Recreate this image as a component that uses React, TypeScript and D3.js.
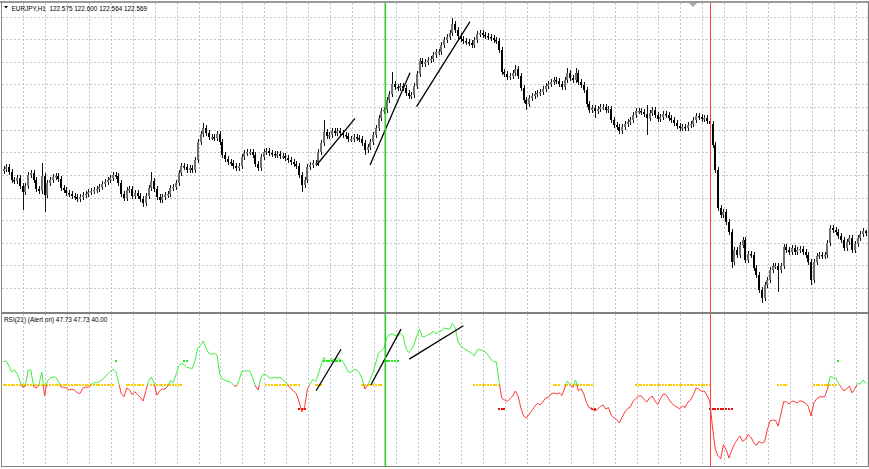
import React from 'react';
import * as d3 from 'd3';

// ---- data ----
const firstOpen = 123.19;
const closes = [
  123.21, 123.23, 123.18, 123.10, 123.09, 123.12, 123.04, 122.98, 123.04, 123.15,
  123.17, 123.10, 123.01, 122.99, 123.14, 122.95, 123.07, 123.10, 123.13, 123.14,
  123.11, 123.02, 123.00, 122.97, 122.96, 122.94, 122.93, 122.91, 122.93, 122.95,
  122.96, 122.98, 122.99, 123.00, 123.01, 123.03, 123.06, 123.08, 123.10, 123.12,
  123.15, 123.14, 123.07, 122.96, 122.92, 123.00, 123.01, 122.94, 122.97, 122.94,
  122.91, 122.87, 122.94, 123.02, 123.09, 123.01, 122.93, 122.90, 122.93, 122.95,
  122.96, 123.02, 123.03, 123.07, 123.17, 123.24, 123.23, 123.20, 123.22, 123.20,
  123.30, 123.48, 123.56, 123.62, 123.57, 123.53, 123.53, 123.52, 123.56, 123.48,
  123.35, 123.31, 123.28, 123.27, 123.24, 123.22, 123.24, 123.33, 123.37, 123.38,
  123.38, 123.35, 123.26, 123.22, 123.33, 123.38, 123.39, 123.37, 123.36, 123.35,
  123.36, 123.34, 123.34, 123.32, 123.30, 123.28, 123.26, 123.24, 123.15, 123.05,
  123.10, 123.23, 123.25, 123.27, 123.27, 123.38, 123.47, 123.58, 123.54, 123.55,
  123.59, 123.57, 123.59, 123.57, 123.55, 123.54, 123.51, 123.51, 123.53, 123.52,
  123.51, 123.47, 123.40, 123.43, 123.48, 123.55, 123.62, 123.72, 123.79, 123.80,
  123.90, 123.96, 124.06, 124.03, 124.02, 124.04, 124.02, 123.97, 123.94, 123.95,
  124.04, 124.16, 124.29, 124.26, 124.28, 124.30, 124.31, 124.35, 124.38, 124.38,
  124.45, 124.50, 124.53, 124.57, 124.66, 124.60, 124.54, 124.51, 124.49, 124.48,
  124.47, 124.45, 124.50, 124.56, 124.57, 124.55, 124.54, 124.53, 124.52, 124.50,
  124.49, 124.40, 124.18, 124.16, 124.13, 124.14, 124.17, 124.21, 124.14, 124.02,
  123.90, 123.86, 123.92, 123.94, 123.96, 123.97, 123.98, 124.01, 124.04, 124.06,
  124.08, 124.10, 124.09, 124.06, 124.03, 124.10, 124.17, 124.12, 124.10, 124.17,
  124.08, 124.05, 124.00, 123.86, 123.80, 123.82, 123.79, 123.81, 123.83, 123.83,
  123.80, 123.81, 123.70, 123.65, 123.63, 123.59, 123.63, 123.66, 123.68, 123.70,
  123.75, 123.79, 123.79, 123.78, 123.76, 123.72, 123.77, 123.80, 123.75, 123.71,
  123.73, 123.76, 123.75, 123.72, 123.70, 123.67, 123.64, 123.62, 123.63, 123.62,
  123.65, 123.66, 123.70, 123.74, 123.73, 123.71, 123.72, 123.69, 123.66, 123.45,
  123.20, 122.82, 122.75, 122.78, 122.68, 122.58, 122.28, 122.40, 122.35, 122.45,
  122.50, 122.30, 122.36, 122.35, 122.22, 122.15, 122.00, 121.92, 122.05, 122.10,
  122.20, 122.24, 122.24, 122.20, 122.24, 122.43, 122.40, 122.38, 122.42, 122.38,
  122.40, 122.41, 122.38, 122.35, 122.28, 122.10, 122.28, 122.34, 122.35, 122.34,
  122.35, 122.47, 122.62, 122.60, 122.58, 122.54, 122.50, 122.42, 122.48, 122.52,
  122.40, 122.46, 122.52, 122.56, 122.59, 122.569,
];
const highSpikes: [number, number][] = [
  [14, 123.27], [54, 123.18], [73, 123.67], [117, 123.70], [142, 124.18], [164, 124.72],
  [187, 124.25], [206, 124.22], [209, 124.22], [235, 123.85], [315, 122.60],
];
const lowSpikes: [number, number][] = [
  [7, 122.80], [15, 122.78], [51, 122.83], [109, 122.98], [132, 123.35], [191, 123.80],
  [216, 123.72], [235, 123.55], [266, 122.22], [277, 121.87], [283, 121.98], [295, 122.05],
];
const rsiValues = [
  59.7, 60.0, 57.9, 55.5, 56.3, 54.6, 51.7, 49.0, 49.6, 56.3,
  56.2, 49.3, 48.8, 50.4, 55.4, 45.4, 51.7, 52.9, 53.3, 53.3,
  51.7, 49.2, 49.0, 48.75, 47.9, 48.3, 47.9, 46.7, 46.5, 48.75,
  49.2, 49.0, 50.2, 51.0, 51.0, 51.4, 52.1, 53.3, 54.6, 55.6,
  56.5, 55.6, 51.3, 46.5, 45.1, 48.75, 47.9, 46.0, 47.2, 46.0,
  44.8, 43.3, 47.5, 51.7, 53.3, 50.8, 45.8, 47.5, 48.3, 48.3,
  49.6, 51.9, 51.0, 54.2, 57.9, 59.0, 58.5, 57.3, 57.1, 56.9,
  60.4, 65.4, 66.5, 68.3, 65.2, 63.3, 62.7, 63.2, 62.5, 54.6,
  52.5, 51.9, 51.5, 51.3, 50.0, 49.4, 51.7, 55.5, 55.8, 55.9,
  55.8, 52.9, 49.6, 47.9, 52.9, 54.6, 54.2, 53.1, 52.8, 53.2,
  52.9, 53.2, 52.3, 51.3, 49.8, 48.5, 47.5, 46.3, 42.9, 38.75,
  40.8, 48.1, 50.4, 52.3, 51.5, 54.6, 58.3, 61.5, 59.8, 59.7,
  61.1, 60.4, 61.1, 60.6, 59.8, 57.7, 55.4, 55.4, 56.5, 56.3,
  55.1, 52.5, 48.3, 50.0, 52.3, 55.4, 59.2, 63.3, 64.2, 65.4,
  69.6, 71.0, 71.25, 70.6, 70.4, 71.5, 70.4, 65.4, 63.5, 64.6,
  67.1, 70.6, 73.3, 70.0, 70.2, 71.0, 71.25, 72.5, 71.25, 72.1,
  72.5, 73.75, 73.5, 73.3, 75.6, 74.0, 68.1, 66.25, 65.4, 64.6,
  64.0, 63.3, 62.1, 64.6, 64.8, 64.4, 63.75, 62.5, 60.8, 59.7,
  59.7, 51.7, 44.6, 43.75, 43.1, 44.2, 45.4, 47.5, 45.4, 40.4,
  37.1, 36.25, 37.9, 39.2, 41.0, 42.3, 41.7, 42.9, 44.6, 44.8,
  46.25, 46.7, 46.25, 46.7, 45.6, 48.75, 51.7, 50.0, 49.0, 52.1,
  47.5, 48.5, 46.25, 42.5, 40.4, 40.4, 39.2, 39.8, 41.0, 41.7,
  40.0, 40.6, 37.5, 36.25, 35.6, 34.2, 36.7, 38.75, 40.2, 40.8,
  43.3, 44.4, 45.4, 45.4, 44.0, 42.9, 44.6, 45.4, 43.3, 41.9,
  44.2, 46.25, 46.0, 44.2, 42.5, 41.5, 40.8, 40.0, 41.25, 40.6,
  42.9, 43.75, 46.0, 48.75, 48.3, 47.3, 47.5, 45.6, 43.3, 32.5,
  23.3, 20.4, 19.2, 25.2, 23.1, 19.6, 22.7, 25.4, 27.1, 28.75,
  26.5, 27.3, 29.4, 28.3, 26.25, 24.8, 26.5, 25.8, 26.25, 31.25,
  35.0, 35.4, 35.2, 32.9, 37.9, 43.1, 42.9, 42.1, 43.3, 43.1,
  42.5, 43.5, 43.0, 42.5, 41.0, 37.1, 42.5, 44.2, 45.0, 45.1,
  45.1, 48.3, 53.75, 52.9, 52.9, 50.8, 49.0, 47.5, 48.3, 49.6,
  46.7, 48.5, 50.6, 50.4, 52.1, 50.6,
];
const gridPrices = [124.733, 124.507, 124.281, 124.055, 123.829, 123.603, 123.377, 123.151, 122.925, 122.699, 122.473, 122.247, 122.021];
const gridBars = d3.range(7.25, 316, 8);
const markerBars = [139.25, 258.2];
const markerColors = ['#33cc33', '#ff4040'];
const trendMain = [
  [114.4, 123.25, 128.4, 123.717],
  [133.9, 123.25, 148.5, 124.173],
  [150.9, 123.833, 170.4, 124.683],
];
const trendRsi = [
  [114.2, 47.6, 123.3, 64.9],
  [134.2, 50.0, 145.2, 73.3],
  [148.2, 60.8, 168.0, 74.7],
];
const neutralRanges = [[0, 40], [45, 51], [54, 65], [96, 108], [114, 116], [131, 138], [172, 181], [201, 203], [205, 215], [231, 258], [283, 286], [296, 304]];
const bullRanges = [[41, 41], [66, 67], [117, 123], [139, 144], [305, 305]];
const bearRanges = [[108, 110], [181, 183], [215, 216], [258, 266]];
const levelNeutral = 50;
const levelBull = 60;
const levelBear = 40;
const titleText = 'EURJPY,H1  122.575 122.600 122.564 122.569';
const rsiText = 'RSI(21) (Alert on) 47.73 47.73 40.00';

// ---- layout ----
const W = 869, H = 469;
const mainTop = 3, mainBottom = 312, rsiTop = 314, rsiBottom = 466;
const left = 2, right = 868;

const barX = d3.scaleLinear().domain([0, 315]).range([3.5, 865.8]);
const priceY = d3.scaleLinear().domain([121.78, 124.87]).range([mainBottom, mainTop]);
const rsiY = d3.scaleLinear().domain([16.25, 79.58]).range([rsiBottom, rsiTop]);

export default function App() {
  const highMap = new Map(highSpikes);
  const lowMap = new Map(lowSpikes);
  const candles = closes.map((c, i) => {
    const o = i === 0 ? firstOpen : closes[i - 1];
    const hi = highMap.has(i) ? highMap.get(i)! : Math.max(o, c) + 0.03;
    const lo = lowMap.has(i) ? lowMap.get(i)! : Math.min(o, c) - 0.03;
    return { i, o, c, hi, lo };
  });

  const rsiLine = d3.line<number>().x((_, i) => barX(i)).y(d => rsiY(d))(rsiValues) || '';
  const y50 = rsiY(levelNeutral);

  const dots = (ranges: number[][], level: number, color: string, key: string) =>
    ranges.flatMap(([a, b]) => d3.range(a, b + 1).map(i => (
      <rect key={key + i} x={Math.round(barX(i)) - 1} y={Math.round(rsiY(level)) - 1} width={2} height={2} fill={color} />
    )));

  return (
    <svg width={W} height={H} style={{ position: 'absolute', left: 0, top: 0, background: '#fff' }}
      fontFamily="'Liberation Sans', Arial, sans-serif">
      <defs>
        <clipPath id="mainClip"><rect x={left} y={mainTop} width={right - left} height={mainBottom - mainTop} /></clipPath>
        <clipPath id="rsiUp"><rect x={left} y={rsiTop} width={right - left} height={y50 - rsiTop} /></clipPath>
        <clipPath id="rsiDown"><rect x={left} y={y50} width={right - left} height={rsiBottom - y50} /></clipPath>
        <clipPath id="rsiClip"><rect x={left} y={rsiTop} width={right - left} height={rsiBottom - rsiTop} /></clipPath>
      </defs>
      <rect x={0} y={0} width={W} height={H} fill="#fff" />

      {/* grid */}
      <g stroke="#c4c4c4" strokeWidth={1} strokeDasharray="2,2">
        {gridPrices.map((p, k) => (
          <line key={'h' + k} x1={left} x2={right} y1={Math.round(priceY(p)) + 0.5} y2={Math.round(priceY(p)) + 0.5} />
        ))}
        {gridBars.map((b, k) => (
          <g key={'v' + k}>
            <line x1={Math.round(barX(b)) + 0.5} x2={Math.round(barX(b)) + 0.5} y1={mainTop} y2={mainBottom} />
            <line x1={Math.round(barX(b)) + 0.5} x2={Math.round(barX(b)) + 0.5} y1={rsiTop} y2={rsiBottom} />
          </g>
        ))}
      </g>

      {/* candles */}
      <g clipPath="url(#mainClip)">
        {candles.map(d => {
          const cx = Math.round(barX(d.i));
          const yTop = priceY(Math.max(d.o, d.c));
          const yBot = priceY(Math.min(d.o, d.c));
          const bull = d.c >= d.o;
          return (
            <g key={d.i}>
              <rect x={cx} y={priceY(d.hi)} width={1} height={Math.max(1, priceY(d.lo) - priceY(d.hi))} fill="#111" />
              <rect x={cx - 1} y={yTop} width={2} height={Math.max(1.5, yBot - yTop)} fill={bull ? '#6f6f6f' : '#000'} />
            </g>
          );
        })}
        {trendMain.map((t, k) => (
          <line key={'tm' + k} x1={barX(t[0])} y1={priceY(t[1])} x2={barX(t[2])} y2={priceY(t[3])} stroke="#000" strokeWidth={1.3} />
        ))}
      </g>

      {/* RSI */}
      <g clipPath="url(#rsiClip)">
        {dots(neutralRanges, levelNeutral, '#ffcc00', 'n')}
        {dots(bullRanges, levelBull, '#22e622', 'b')}
        {dots(bearRanges, levelBear, '#e81010', 'r')}
        <path d={rsiLine} fill="none" stroke="#3ef03e" strokeWidth={1} clipPath="url(#rsiUp)" />
        <path d={rsiLine} fill="none" stroke="#ff3838" strokeWidth={1} clipPath="url(#rsiDown)" />
        {trendRsi.map((t, k) => (
          <line key={'tr' + k} x1={barX(t[0])} y1={rsiY(t[1])} x2={barX(t[2])} y2={rsiY(t[3])} stroke="#000" strokeWidth={1.3} />
        ))}
      </g>

      {/* vertical markers */}
      {markerBars.map((b, k) => (
        <rect key={'m' + k} x={Math.round(barX(b)) - (k === 0 ? 0.5 : 0)} y={mainTop} width={k === 0 ? 1.6 : 1} height={rsiBottom - mainTop}
          fill={markerColors[k]} />
      ))}

      {/* frame */}
      <line x1={0} x2={W} y1={2} y2={2} stroke="#9a9a9a" strokeWidth={2} />
      <line x1={1.5} x2={1.5} y1={2} y2={rsiBottom} stroke="#8a8a8a" strokeWidth={1} />
      <line x1={right + 0.5} x2={right + 0.5} y1={2} y2={rsiBottom} stroke="#7a7a7a" strokeWidth={1.2} />
      <line x1={left} x2={right} y1={313} y2={313} stroke="#808080" strokeWidth={2} />
      <line x1={1} x2={right + 1} y1={rsiBottom + 0.5} y2={rsiBottom + 0.5} stroke="#808080" strokeWidth={1} />

      {/* shift marker */}
      <path d="M689,3 L697,3 L693,7 Z" fill="#a8a8a8" />

      {/* labels */}
      <path d="M4,6 L8,6 L6,8.5 Z" fill="#000" />
      <text x={11.5} y={10.5} fontSize={6.4} fill="#000" style={{ whiteSpace: 'pre' }}>{titleText}</text>
      <text x={4} y={321.5} fontSize={6.4} fill="#000">{rsiText}</text>
    </svg>
  );
}
